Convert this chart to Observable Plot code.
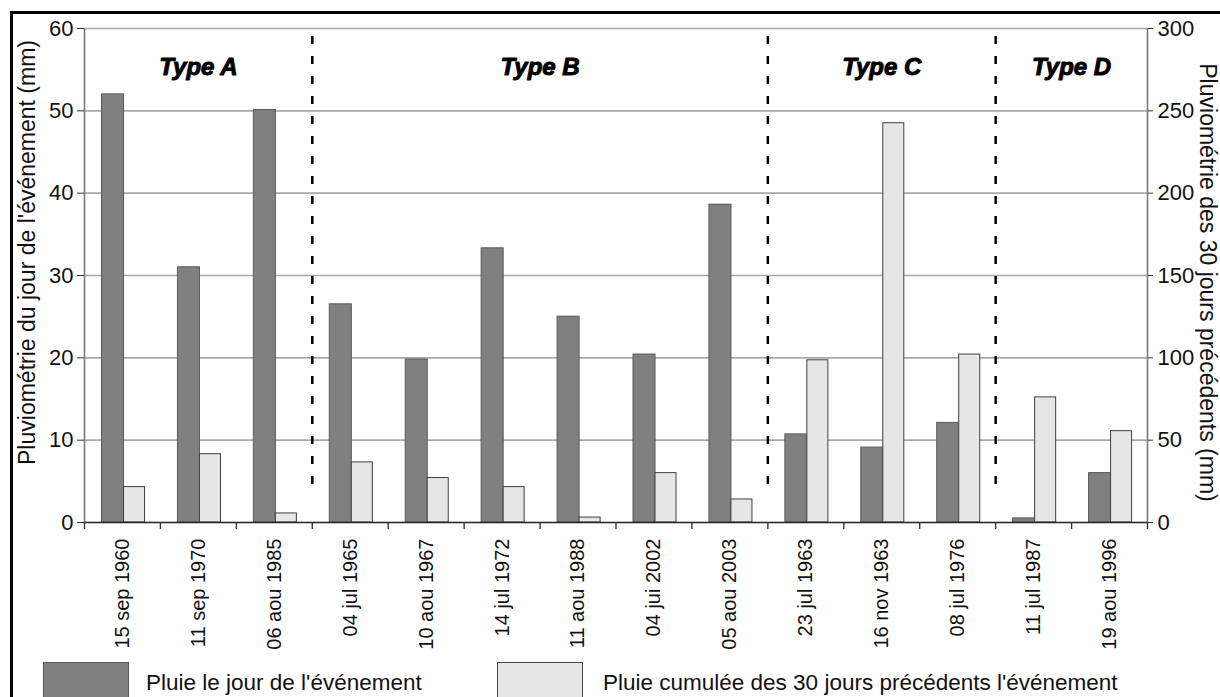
<!DOCTYPE html>
<html><head><meta charset="utf-8">
<script src="https://cdn.jsdelivr.net/npm/d3@7"></script>
<script src="https://cdn.jsdelivr.net/npm/@observablehq/plot@0.6"></script>
<style>
html,body{margin:0;padding:0;background:#fff;}
body{width:1220px;height:697px;overflow:hidden;position:relative;font-family:"Liberation Sans",Arial,sans-serif;}
#frame{position:absolute;left:10px;top:11px;width:1400px;height:900px;border-left:3px solid #000;border-top:3px solid #000;box-sizing:border-box;}
#chart{position:absolute;left:0;top:0;}
.sw{position:absolute;box-sizing:border-box;width:86px;height:50px;}
.lt{position:absolute;font-size:22.5px;line-height:22px;white-space:nowrap;color:#111;}
</style></head>
<body>
<div id="frame"></div>
<div id="chart"></div>
<div id="legend"></div>
<script>
const categories = ["15 sep 1960","11 sep 1970","06 aou 1985","04 jul 1965","10 aou 1967","14 jul 1972","11 aou 1988","04 jui 2002","05 aou 2003","23 jul 1963","16 nov 1963","08 jul 1976","11 jul 1987","19 aou 1996"];
const groupNames = ["Type A","Type B","Type C","Type D"];
const groupSizes = [3,6,3,2];
const rainDay = [52, 31, 50.1, 26.5, 19.8, 33.3, 25, 20.4, 38.6, 10.7, 9.1, 12.1, 0.5, 6];
const rain30 = [21.5, 41.5, 5.5, 36.5, 27, 21.5, 3, 30, 14, 98.5, 242.5, 102, 76, 55.5];
const leftTicks = [0,10,20,30,40,50,60];
const rightTicks = [0,50,100,150,200,250,300];
const seriesNames = ["Pluie le jour de l'événement","Pluie cumulée des 30 jours précédents l'événement"];
const leftTitle = "Pluviométrie du jour de l'événement (mm)";
const rightTitle = "Pluviométrie des 30 jours précédents (mm)";

const ratio = rightTicks[rightTicks.length-1] / leftTicks[leftTicks.length-1];
const n = categories.length;
const rows = categories.map((c,i)=>({i, c, day: rainDay[i], cum: rain30[i]/ratio}));
let acc = 0;
const groups = groupNames.map((g,k)=>{const s = acc; acc += groupSizes[k]; return {g, center: s + groupSizes[k]/2, end: acc};});
const separators = groups.slice(0,-1).map(d=>d.end);
const edges = d3.range(n+1);
const yTop = leftTicks[leftTicks.length-1];

const DARK = "#808080", LIGHT = "#e6e6e6";

const chart = Plot.plot({
  width: 1220, height: 650,
  marginLeft: 84, marginRight: 73, marginTop: 28, marginBottom: 128,
  style: {fontFamily: "'Liberation Sans', Arial, sans-serif", fontSize: "21px", background: "transparent", color: "#111"},
  x: {domain: [0, n], axis: null},
  y: {domain: [0, yTop], axis: null},
  marks: [
    Plot.ruleY(leftTicks.slice(1), {stroke: "#a8a8a8", strokeWidth: 1.6}),
    Plot.ruleX([0, n], {y1: 0, y2: yTop, stroke: "#7a7a7a", strokeWidth: 1.6}),
    Plot.rect(rows, {x1: d=>d.i, x2: d=>d.i+1, y1: 0, y2: "day", insetLeft: 17.5, insetRight: 36.4, fill: DARK, stroke: "#5a5a5a", strokeWidth: 1}),
    Plot.rect(rows, {x1: d=>d.i, x2: d=>d.i+1, y1: 0, y2: "cum", insetLeft: 39.5, insetRight: 15.4, fill: LIGHT, stroke: "#404040", strokeWidth: 1}),
    Plot.ruleX(separators, {y1: yTop, y2: 0, insetTop: 8, insetBottom: 29, stroke: "#000", strokeWidth: 2.5, strokeDasharray: "8,12"}),
    Plot.ruleY([0], {stroke: "#222", strokeWidth: 1.6}),
    Plot.ruleX(edges, {y1: 0, y2: 0, insetBottom: -7, stroke: "#333", strokeWidth: 1.4}),
    Plot.axisY({anchor: "left", ticks: leftTicks, tickSize: 7, tickPadding: 4, fontSize: 22, label: null, stroke: "#333"}),
    Plot.axisY({anchor: "right", ticks: leftTicks, tickFormat: d => String(rightTicks[leftTicks.indexOf(d)]), tickSize: 5, tickPadding: 5, fontSize: 22, label: null, stroke: "#333"}),
    Plot.axisX({ticks: rows.map(d=>d.i+0.5), tickFormat: d => categories[Math.floor(d)], tickRotate: -90, tickSize: 0, tickPadding: 16, fontSize: 20, label: null}),
    Plot.text(groups, {x: "center", text: "g", frameAnchor: "top", dy: 29, fontSize: 24, fontWeight: "bold", fontStyle: "italic", fill: "#000", stroke: "#000", strokeWidth: 1}),
    Plot.text([leftTitle], {frameAnchor: "left", textAnchor: "middle", text: d=>d, rotate: -90, dx: -57, dy: -23, fontSize: 23, fill: "#111"}),
    Plot.text([rightTitle], {frameAnchor: "right", textAnchor: "middle", text: d=>d, rotate: 90, dx: 60, dy: 7, fontSize: 23, fill: "#111"})
  ]
});
document.getElementById("chart").appendChild(chart);

const legend = document.getElementById("legend");
const legendItems = [
  {name: seriesNames[0], fill: DARK, border: "#555", sx: 43, tx: 146},
  {name: seriesNames[1], fill: LIGHT, border: "#444", sx: 497, tx: 603}
];
legendItems.forEach(it=>{
  const s = document.createElement("div");
  s.className = "sw";
  s.style.left = it.sx + "px"; s.style.top = "662px";
  s.style.background = it.fill; s.style.border = "1.5px solid " + it.border;
  legend.appendChild(s);
  const t = document.createElement("div");
  t.className = "lt";
  t.style.left = it.tx + "px"; t.style.top = "672px";
  t.textContent = it.name;
  legend.appendChild(t);
});
</script>
</body></html>
